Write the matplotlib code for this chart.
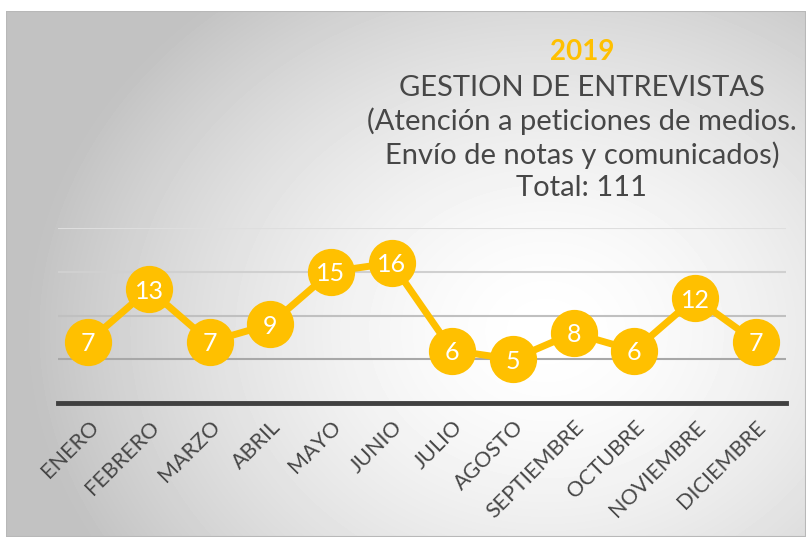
import numpy as np
import matplotlib.pyplot as plt
from matplotlib.patches import Rectangle

# data
meses = ['ENERO', 'FEBRERO', 'MARZO', 'ABRIL', 'MAYO', 'JUNIO', 'JULIO',
         'AGOSTO', 'SEPTIEMBRE', 'OCTUBRE', 'NOVIEMBRE', 'DICIEMBRE']
entrevistas = [7, 13, 7, 9, 15, 16, 6, 5, 8, 6, 12, 7]
titulo = ['GESTION DE ENTREVISTAS',
          '(Atención a peticiones de medios.',
          'Envío de notas y comunicados)',
          'Total: 111']

amarillo = '#FFC000'
gris_texto = '#474747'
plt.rcParams['font.family'] = ['Lato', 'DejaVu Sans']

fig = plt.figure(figsize=(8.06, 5.37), dpi=100)
fig.patch.set_facecolor('white')

# radial gradient background
bg = fig.add_axes([6 / 806, 0, 800 / 806, 526 / 537])
bg.set_axis_off()
yy, xx = np.mgrid[0:526, 0:800]
r = np.sqrt(((xx - 540) / 520) ** 2 + ((yy - 320) / 430) ** 2)
shade = 1.0 - 0.24 * np.clip(r, 0, 1) ** 1.6
bg.imshow(shade, cmap='gray', vmin=0, vmax=1, aspect='auto',
          extent=[0, 800, 526, 0])
bg.add_patch(Rectangle((0, 0), 800, 526, fill=False, edgecolor='#b8b8b8', lw=1.5))

ax = fig.add_axes([58 / 806, 134 / 537, 728 / 806, 175 / 537])
ax.set_facecolor('none')
x = np.arange(len(meses))

grid_colors = {5: '#a8a8a8', 10: '#c0c0c0', 15: '#d0d0d0', 20: '#dedede'}
for level, c in grid_colors.items():
    ax.axhline(level, color=c, lw=1.5, zorder=1)

ax.plot(x, entrevistas, color=amarillo, lw=5, marker='o', markersize=33,
        markerfacecolor=amarillo, markeredgecolor=amarillo, zorder=3,
        clip_on=False)
for xi, v in zip(x, entrevistas):
    ax.text(xi, v, str(v), color='white', fontsize=18,
            ha='center', va='center_baseline', zorder=4)

ax.set_xlim(-0.5, len(meses) - 0.5)
ax.set_ylim(0, 20)
ax.set_yticks([])
for s in ['top', 'right', 'left']:
    ax.spines[s].set_visible(False)
ax.spines['bottom'].set_color('#404040')
ax.spines['bottom'].set_linewidth(3.5)
ax.set_xticks(x)
ax.set_xticklabels(meses, rotation=45, ha='right', rotation_mode='anchor',
                   fontsize=15.5, color=gris_texto)
ax.tick_params(axis='x', length=0, pad=10)

# title block
fig.text(582 / 806, 1 - 52 / 537, '2019', color=amarillo, fontsize=20,
         fontweight='bold', ha='center', va='center')
for i, linea in enumerate(titulo):
    fig.text(582 / 806, 1 - (88 + 33.5 * i) / 537, linea, color=gris_texto,
             fontsize=21, ha='center', va='center')

fig.savefig('out.png', dpi=100)
